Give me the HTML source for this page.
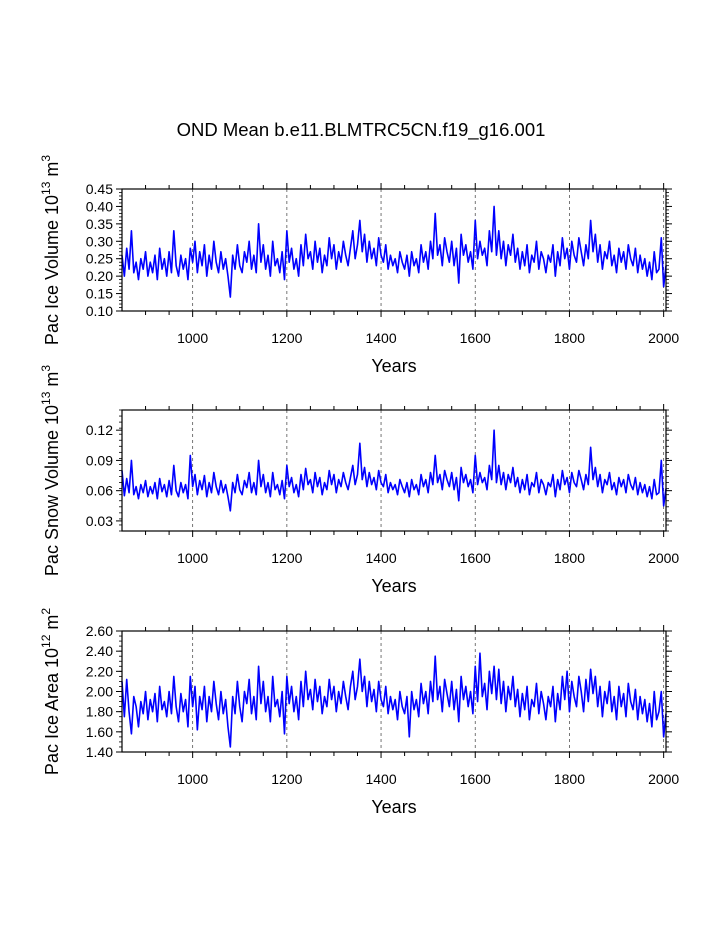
<!DOCTYPE html>
<html><head><meta charset="utf-8">
<style>
html,body{margin:0;padding:0;background:#fff;}
svg{display:block;font-family:"Liberation Sans",sans-serif;}
</style></head>
<body>
<svg id="chart" width="723" height="935" viewBox="0 0 723 935" xmlns="http://www.w3.org/2000/svg">
<text x="361" y="136" font-size="18.5" text-anchor="middle">OND Mean b.e11.BLMTRC5CN.f19_g16.001</text>
</svg>
<script>
const startYear = 850;
const stepYears = 5;
const xTickYears = [1000, 1200, 1400, 1600, 1800, 2000];
const iceVolume = [.26,.20,.28,.22,.33,.21,.24,.19,.25,.22,.27,.20,.24,.21,.26,.19,.28,.22,.25,.20,
.27,.21,.33,.23,.20,.26,.22,.25,.19,.28,.24,.30,.21,.27,.23,.29,.20,.26,.22,.30,
.24,.21,.27,.22,.25,.20,.14,.26,.22,.29,.23,.21,.27,.24,.30,.22,.26,.21,.35,.24,
.29,.22,.26,.20,.30,.23,.25,.21,.27,.19,.33,.24,.28,.22,.25,.20,.29,.23,.32,.25,
.27,.22,.30,.24,.28,.21,.26,.23,.31,.25,.29,.22,.27,.24,.30,.26,.23,.28,.33,.25,
.29,.36,.27,.32,.24,.30,.25,.28,.23,.31,.26,.24,.29,.22,.26,.23,.25,.21,.27,.24,
.22,.26,.20,.27,.23,.25,.21,.29,.24,.27,.22,.30,.25,.38,.26,.29,.23,.31,.27,.24,
.30,.23,.28,.18,.32,.26,.29,.24,.27,.22,.36,.25,.30,.26,.28,.23,.33,.27,.40,.26,
.33,.25,.30,.23,.29,.26,.32,.24,.28,.22,.27,.23,.29,.21,.26,.24,.30,.22,.27,.25,
.21,.26,.24,.29,.20,.27,.23,.31,.25,.28,.22,.30,.26,.24,.31,.27,.23,.29,.25,.36,
.27,.32,.24,.29,.22,.27,.25,.30,.23,.26,.21,.28,.24,.27,.22,.29,.25,.23,.28,.21,
.26,.22,.25,.20,.24,.19,.27,.21,.22,.31,.17,.23];
const snowVolume = [.080,.055,.072,.058,.090,.056,.064,.052,.066,.058,.070,.054,.064,.057,.068,.052,.072,.059,.066,.054,
.070,.056,.085,.060,.054,.068,.058,.066,.052,.095,.064,.076,.056,.070,.061,.075,.054,.068,.058,.078,
.064,.056,.070,.058,.066,.054,.040,.068,.058,.076,.061,.056,.070,.063,.078,.058,.068,.056,.090,.064,
.076,.058,.068,.054,.078,.061,.066,.056,.070,.052,.085,.064,.073,.058,.066,.054,.076,.061,.082,.066,
.071,.058,.078,.064,.073,.056,.068,.061,.080,.066,.076,.058,.071,.064,.078,.068,.061,.073,.085,.066,
.076,.107,.071,.083,.064,.078,.066,.073,.061,.080,.068,.064,.076,.058,.068,.061,.066,.056,.071,.064,
.058,.068,.054,.071,.061,.066,.056,.076,.064,.071,.058,.078,.066,.095,.068,.076,.061,.080,.071,.064,
.078,.061,.073,.050,.083,.068,.076,.064,.071,.058,.095,.066,.078,.068,.073,.061,.085,.071,.120,.068,
.085,.066,.078,.061,.076,.068,.083,.064,.073,.058,.071,.061,.076,.056,.068,.064,.078,.058,.071,.066,
.056,.068,.064,.076,.054,.071,.061,.080,.066,.073,.058,.078,.068,.064,.080,.071,.061,.076,.066,.103,
.071,.083,.064,.076,.058,.071,.066,.078,.061,.068,.056,.073,.064,.071,.058,.076,.066,.061,.073,.056,
.068,.058,.066,.054,.064,.052,.071,.056,.058,.090,.045,.062];
const iceArea = [2.10,1.75,2.12,1.80,1.58,1.95,1.85,1.65,1.90,1.78,2.00,1.72,1.92,1.80,1.98,1.70,2.05,1.82,1.90,1.75,
2.00,1.78,2.15,1.85,1.70,1.98,1.80,1.92,1.65,2.15,1.85,2.05,1.62,1.95,1.82,2.05,1.70,1.95,1.80,2.10,
1.88,1.72,2.00,1.78,1.92,1.65,1.45,1.95,1.78,2.10,1.85,1.70,2.00,1.88,2.12,1.78,1.95,1.72,2.25,1.88,
2.10,1.80,1.95,1.70,2.15,1.85,1.92,1.75,2.00,1.58,2.15,1.88,2.05,1.80,1.95,1.72,2.10,1.85,2.20,1.92,
2.02,1.82,2.12,1.90,2.05,1.78,1.95,1.85,2.12,1.92,2.05,1.80,2.00,1.88,2.10,1.95,1.82,2.05,2.20,1.92,
2.05,2.32,2.00,2.15,1.85,2.10,1.90,2.02,1.80,2.10,1.92,1.85,2.05,1.78,1.95,1.82,1.92,1.72,2.00,1.85,
1.78,1.95,1.55,2.00,1.82,1.92,1.75,2.08,1.88,2.00,1.78,2.10,1.90,2.35,1.92,2.05,1.80,2.12,1.98,1.85,
2.10,1.82,2.02,1.70,2.15,1.92,2.05,1.85,2.00,1.78,2.25,1.90,2.38,1.95,2.08,1.82,2.20,1.98,2.25,1.92,
2.22,1.88,2.10,1.80,2.05,1.92,2.15,1.85,2.02,1.75,1.98,1.82,2.05,1.72,1.92,1.85,2.08,1.78,2.00,1.88,
1.72,1.95,1.85,2.05,1.70,1.98,1.82,2.15,1.92,2.20,1.80,2.10,1.95,1.85,2.15,2.00,1.80,2.12,1.90,2.22,
1.98,2.15,1.85,2.05,1.75,2.00,1.88,2.10,1.80,1.95,1.72,2.05,1.85,1.98,1.75,2.08,1.90,1.82,2.02,1.72,
1.95,1.78,1.92,1.70,1.88,1.65,2.00,1.72,1.80,2.00,1.55,1.78];
const iceVolumeTicks = ["0.10","0.15","0.20","0.25","0.30","0.35","0.40","0.45"];
const snowVolumeTicks = ["0.03","0.06","0.09","0.12"];
const iceAreaTicks = ["1.40","1.60","1.80","2.00","2.20","2.40","2.60"];

const NS = "http://www.w3.org/2000/svg";
const svg = document.getElementById('chart');
function mk(tag, attrs, parent) {
  const e = document.createElementNS(NS, tag);
  for (const k in attrs) e.setAttribute(k, attrs[k]);
  (parent || svg).appendChild(e);
  return e;
}
const X0 = 122, X1 = 666, YR0 = 850, YR1 = 2005;
function xScale(yr) { return X0 + (yr - YR0) / (YR1 - YR0) * (X1 - X0); }

function panel(cfg) {
  const g = mk('g', {});
  
  
  const yS = v => cfg.bot - (v - cfg.min) / (cfg.max - cfg.min) * (cfg.bot - cfg.top);
  xTickYears.forEach(yr => {
    const l = mk('line', {x1: xScale(yr), x2: xScale(yr), y1: cfg.top, y2: cfg.bot, stroke: '#555', 'stroke-width': 0.8, 'stroke-dasharray': '3,3'}, g);
    
    
  });
  let d = '';
  cfg.data.forEach((v, i) => {
    const x = xScale(startYear + i * stepYears);
    d += (i ? 'L' : 'M') + x.toFixed(2) + ',' + yS(v).toFixed(2);
  });
  const p = mk('path', {d: d, fill: 'none', stroke: '#0000ff', 'stroke-width': 1.6, 'stroke-linejoin': 'round'}, g);
  
  
  const b = mk('rect', {x: X0, y: cfg.top, width: X1 - X0, height: cfg.bot - cfg.top, fill: 'none', stroke: '#000', 'stroke-width': 1.2}, g);
  
  
  for (let yr = 900; yr <= 2000; yr += 50) {
    const x = xScale(yr), L = (yr % 200 === 0) ? 6 : 4;
    mk('line', {x1: x, x2: x, y1: cfg.bot, y2: cfg.bot + L, stroke: '#000', 'stroke-width': 1}, g);
    mk('line', {x1: x, x2: x, y1: cfg.top, y2: cfg.top - L, stroke: '#000', 'stroke-width': 1}, g);
  }
  xTickYears.forEach(yr => {
    const t = mk('text', {x: xScale(yr), y: cfg.bot + 32, 'font-size': 14, 'text-anchor': 'middle'}, g);
    t.textContent = yr;
    
    
  });
  const xt = mk('text', {x: 394, y: cfg.bot + 61, 'font-size': 18, 'text-anchor': 'middle'}, g);
  xt.textContent = 'Years';
  
  
  const nMin = Math.round((cfg.max - cfg.min) / cfg.minor);
  for (let i = 0; i <= nMin; i++) {
    const v = cfg.min + i * cfg.minor;
    const y = yS(v);
    mk('line', {x1: X0, x2: X0 - 3, y1: y, y2: y, stroke: '#000', 'stroke-width': 0.8}, g);
    mk('line', {x1: X1, x2: X1 + 3, y1: y, y2: y, stroke: '#000', 'stroke-width': 0.8}, g);
  }
  cfg.ticks.forEach(s => {
    const y = yS(parseFloat(s));
    mk('line', {x1: X0, x2: X0 - 6, y1: y, y2: y, stroke: '#000', 'stroke-width': 1}, g);
    mk('line', {x1: X1, x2: X1 + 6, y1: y, y2: y, stroke: '#000', 'stroke-width': 1}, g);
    const t = mk('text', {x: X0 - 9, y: y + 5, 'font-size': 14, 'text-anchor': 'end'}, g);
    t.textContent = s;
    
    
  });
  const cy = (cfg.top + cfg.bot) / 2;
  const yt = mk('text', {x: 0, y: 0, 'font-size': 18, 'text-anchor': 'middle', transform: 'translate(58,' + cy + ') rotate(-90)'}, g);
  
  
  yt.appendChild(document.createTextNode(cfg.label + ' 10'));
  const s1 = mk('tspan', {dy: -8, 'font-size': 12}, yt); s1.textContent = cfg.exp;
  const s2 = mk('tspan', {dy: 8}, yt); s2.textContent = ' m';
  const s3 = mk('tspan', {dy: -8, 'font-size': 12}, yt); s3.textContent = cfg.unitExp;
}
panel({name: 'ice-volume', data: iceVolume, ticks: iceVolumeTicks, min: 0.10, max: 0.45, minor: 0.01, top: 189, bot: 311, label: 'Pac Ice Volume', exp: '13', unitExp: '3'});
panel({name: 'snow-volume', data: snowVolume, ticks: snowVolumeTicks, min: 0.02, max: 0.14, minor: 0.006, top: 410, bot: 531, label: 'Pac Snow Volume', exp: '13', unitExp: '3'});
panel({name: 'ice-area', data: iceArea, ticks: iceAreaTicks, min: 1.40, max: 2.60, minor: 0.05, top: 631, bot: 752, label: 'Pac Ice Area', exp: '12', unitExp: '2'});
</script>
</body></html>
